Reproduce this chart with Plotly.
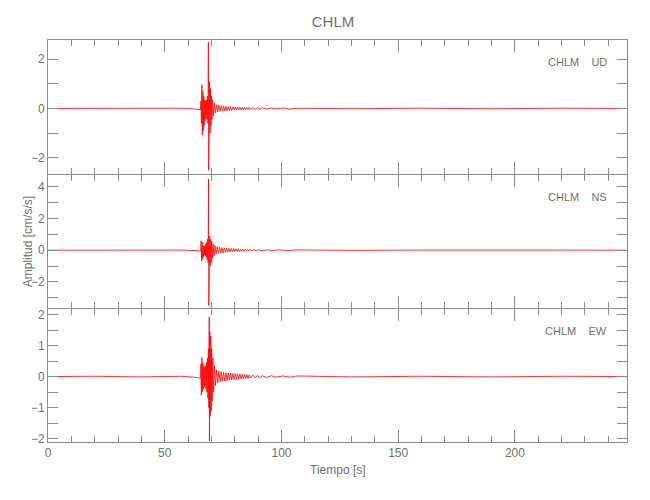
import plotly.graph_objects as go
from plotly.subplots import make_subplots

station = "CHLM"
components = ["UD", "NS", "EW"]

# Waveform points (time [s], amplitude [cm/s/s])
ud_t = [0, 20, 40, 57, 62.7, 65.3, 65.5, 65.7, 65.9, 66.1, 66.3, 66.5, 66.7, 66.9, 67.1,
        67.3, 67.5, 67.7, 67.9, 68.1, 68.3, 68.5, 68.7, 68.8, 68.9, 69.0, 69.2, 69.4, 69.6, 69.8,
        70.0, 70.2, 70.5, 70.8, 71.2, 71.7,
        72.2, 72.7, 73.2, 73.7, 74.2, 74.7, 75.2, 75.7, 76.2, 76.7, 77.2, 77.7, 78.2, 78.7, 79.2,
        79.7, 80.2, 80.7, 81.2, 81.7, 82.2, 82.7, 83.2, 83.7, 84.2, 84.7, 85.2, 85.7, 86.2, 86.7,
        87.7, 88.7, 89.7, 90.7, 91.7, 93.7, 95.7, 97.7, 100.7, 103.7, 106.7,
        130, 160, 190, 220, 248]
ud_a = [0.0, 0.01, -0.01, 0.01, -0.02, -0.05, 0.3, -0.6, 0.96, -1.08, 0.7,
        -0.9, 0.5, -0.7, 0.35, -0.5, 0.3, -0.4, 0.35, -0.45, 0.5, -0.6, 2.68, -2.5, 1.3, -1.24,
        1.1, -1.0, 0.8, -0.7, 0.5, -0.45, 0.35, -0.3, 0.22, -0.18, 0.15, -0.14, 0.13, -0.12, 0.12,
        -0.11, 0.1, -0.1, 0.09, -0.09, 0.08, -0.08, 0.08, -0.07, 0.07, -0.07, 0.06, -0.06, 0.06,
        -0.06, 0.05, -0.05, 0.05, -0.05, 0.05, -0.04, 0.04, -0.04, 0.04, -0.04, 0.03, -0.03, 0.03,
        -0.03, 0.03, -0.02, 0.02, -0.02, 0.02, -0.02, 0.01, -0.01, 0.01, -0.01, 0.01, 0.0]

ns_t = [0, 20, 40, 57, 62.7, 65.4, 65.6, 65.8, 66.0, 66.2, 66.4, 66.6, 66.8, 67.0, 67.2,
        67.4, 67.6, 67.8, 68.0, 68.2, 68.4, 68.6, 68.75, 68.85, 69.0, 69.1, 69.3, 69.5, 69.7, 69.9,
        70.1, 70.4, 70.7, 71.1, 71.5,
        72.0, 72.5, 73.0, 73.5, 74.0, 74.5, 75.0, 75.5, 76.0, 76.5, 77.0, 77.5, 78.0, 78.5, 79.0,
        79.5, 80.0, 80.5, 81.0, 81.5, 82.0, 82.5, 83.0, 83.5, 84.0, 84.5, 85.0, 85.5, 86.0, 86.5,
        87.2, 88.2, 89.2, 90.2, 91.7, 93.7, 95.7, 98.7, 102.7, 106.7,
        130, 160, 190, 220, 248]
ns_a = [0.0, 0.01, -0.01, 0.01, -0.02, -0.05, 0.6, -0.69, 0.5, -0.55, 0.3,
        -0.4, 0.25, -0.3, 0.3, -0.35, 0.4, -0.45, 0.5, -0.6, 0.7, -0.8, 4.5, -3.5, 0.9, -1.4,
        0.88, -1.0, 0.7, -0.8, 0.55, -0.5, 0.4, -0.38, 0.3, -0.25, 0.22, -0.2, 0.19, -0.18, 0.17,
        -0.16, 0.15, -0.14, 0.13, -0.12, 0.12, -0.11, 0.11, -0.1, 0.1, -0.09, 0.09, -0.08, 0.08,
        -0.08, 0.07, -0.07, 0.07, -0.06, 0.06, -0.06, 0.05, -0.05, 0.05, -0.04, 0.04, -0.04, 0.03,
        -0.03, 0.03, -0.02, 0.02, -0.02, 0.02, -0.01, 0.01, -0.01, 0.01, 0.0]

ew_t = [0, 20, 40, 57, 62.7, 65.3, 65.5, 65.7, 65.9, 66.1, 66.3, 66.5, 66.7, 66.9, 67.1,
        67.3, 67.5, 67.7, 67.9, 68.1, 68.3, 68.5, 68.7, 68.9, 69.05, 69.15, 69.3, 69.5, 69.7, 69.9,
        70.1, 70.3, 70.6, 70.9, 71.3, 71.7,
        72.2, 72.7, 73.2, 73.7, 74.2, 74.7, 75.2, 75.7, 76.2, 76.7, 77.2, 77.7, 78.2, 78.7, 79.2,
        79.7, 80.2, 80.7, 81.2, 81.7, 82.2, 82.7, 83.2, 83.7, 84.2, 84.7, 85.2, 85.7, 86.2, 86.7,
        87.7, 88.7, 89.7, 90.7, 91.7, 93.7, 95.7, 97.7, 100.7, 103.7, 106.7,
        130, 160, 190, 220, 248]
ew_a = [0.0, 0.01, -0.01, 0.01, -0.02, -0.05, 0.4, -0.6, 0.62, -0.5, 0.45,
        -0.4, 0.35, -0.35, 0.3, -0.3, 0.35, -0.4, 0.45, -0.5, 0.6, -0.7, 0.9, -1.0, 1.92, -2.08,
        1.46, -1.28, 1.3, -1.1, 0.9, -0.8, 0.6, -0.5, 0.35, -0.3, 0.22, -0.2, 0.18, -0.17, 0.16,
        -0.15, 0.14, -0.14, 0.13, -0.13, 0.12, -0.12, 0.11, -0.11, 0.1, -0.1, 0.1, -0.09, 0.09,
        -0.08, 0.08, -0.08, 0.07, -0.07, 0.07, -0.06, 0.06, -0.06, 0.05, -0.05, 0.05, -0.04, 0.04,
        -0.04, 0.03, -0.03, 0.03, -0.02, 0.02, -0.02, 0.02, -0.01, 0.01, -0.01, 0.01, 0.0]

y_ranges = [[-2.65, 2.77], [-3.65, 4.75], [-2.11, 2.18]]
y_ticks = [[-2, -1, 0, 1, 2], [-3, -2, -1, 0, 1, 2, 3, 4], [-2, -1.5, -1, -0.5, 0, 0.5, 1, 1.5, 2]]
y_text = [["−2", "", "0", "", "2"], ["", "−2", "", "0", "", "2", "", "4"],
          ["−2", "", "−1", "", "0", "", "1", "", "2"]]
x_range = [0, 248]

FONT = "Liberation Sans Narrow, Liberation Sans, Arial, sans-serif"
GRAY = "#8c8c8c"
TXT = "#707070"

PLOT_H = 402
px = 1.0 / PLOT_H
domains = [[2 / 3, 1.0], [1 / 3, 2 / 3 - px], [0.0, 1 / 3 - px]]

fig = make_subplots(rows=3, cols=1, shared_xaxes=True, vertical_spacing=0)

for i, (t, a) in enumerate([(ud_t, ud_a), (ns_t, ns_a), (ew_t, ew_a)]):
    fig.add_trace(go.Scatter(x=t, y=a, mode="lines", line=dict(color="#ff0000", width=0.8),
                             showlegend=False, hoverinfo="skip"), row=i + 1, col=1)
    fig.update_yaxes(range=y_ranges[i], tickvals=y_ticks[i], ticktext=y_text[i],
                     domain=domains[i],
                     ticks="inside", ticklen=10, tickcolor=GRAY, tickwidth=1,
                     showline=True, linecolor=GRAY, linewidth=1,
                     mirror="allticks", showgrid=False, zeroline=False, automargin=False,
                     tickfont=dict(family=FONT, size=12, color=TXT), row=i + 1, col=1)
    fig.update_xaxes(range=x_range, dtick=50, tick0=0, ticks="inside", ticklen=12, tickcolor=GRAY,
                     minor=dict(dtick=10, ticks="inside", ticklen=6, tickcolor=GRAY),
                     showline=True, linecolor=GRAY, linewidth=1, mirror="allticks",
                     showgrid=False, automargin=False,
                     zeroline=False, tickfont=dict(family=FONT, size=12, color=TXT),
                     row=i + 1, col=1)

    yref = ["y", "y2", "y3"][i]
    fig.add_annotation(x=0.969, xref="paper", y=0.836, yref=yref + " domain", yanchor="middle",
                       text=f"{station}    {components[i]}", showarrow=False, xanchor="right",
                       font=dict(family=FONT, size=11, color=TXT))

fig.add_annotation(x=0.5, xref="paper", y=-0.07, yref="paper", yanchor="middle",
                   xanchor="center", text="Tiempo [s]", showarrow=False,
                   font=dict(family=FONT, size=12, color=TXT))
fig.add_annotation(x=-0.033, xref="paper", y=0.499, yref="paper", yanchor="middle",
                   xanchor="center", text="Amplitud [cm/s/s]", showarrow=False, textangle=-90,
                   font=dict(family=FONT, size=12, color=TXT))

fig.update_layout(
    width=650, height=500,
    margin=dict(l=40, r=31, t=32, b=66),
    paper_bgcolor="white", plot_bgcolor="white",
    title=dict(text=station, x=0.5, xanchor="center", y=0.973, yanchor="middle",
               font=dict(family=FONT, size=15, color=TXT)),
)

fig.write_html("out.html")
